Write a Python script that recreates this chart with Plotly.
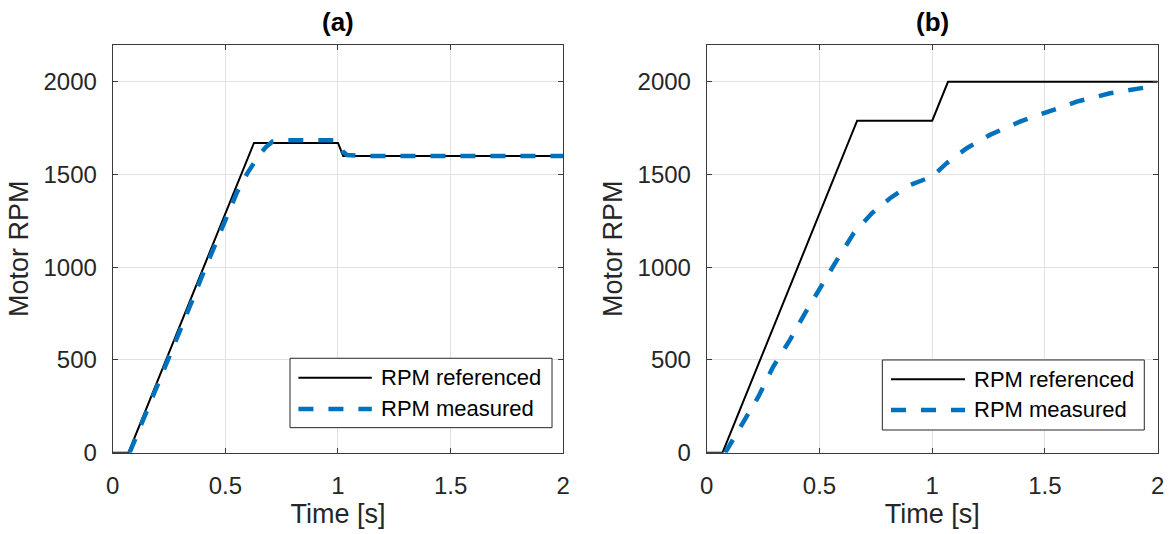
import plotly.graph_objects as go

# ---- data -------------------------------------------------------------
# (a) reference ramp with a step down after t = 1 s
t_ref_a = [0.0, 0.07, 0.627, 1.0, 1.023, 2.0]
rpm_ref_a = [0, 0, 1670, 1670, 1600, 1600]

t_meas_a = [0.075, 0.2, 0.3, 0.4, 0.5, 0.55, 0.6, 0.65, 0.68, 0.71, 0.75,
            0.99, 1.005, 1.02, 1.04, 1.07, 1.1, 2.0]
rpm_meas_a = [0, 362, 662, 962, 1258, 1400, 1512, 1605, 1648, 1678, 1685,
              1685, 1668, 1625, 1605, 1601, 1600, 1600]

# (b) reference ramp with a step up after t = 1 s
t_ref_b = [0.0, 0.07, 0.667, 1.0, 1.07, 2.0]
rpm_ref_b = [0, 0, 1790, 1790, 2000, 2000]

t_meas_b = [0.082, 0.162, 0.229, 0.295, 0.369, 0.436, 0.502, 0.569, 0.650,
            0.732, 0.813, 0.902, 1.0, 1.064, 1.153, 1.256, 1.389, 1.508,
            1.641, 1.788, 2.0]
rpm_meas_b = [0, 159, 302, 464, 608, 752, 890, 1022, 1180, 1291, 1372, 1444,
              1489, 1561, 1642, 1714, 1785, 1839, 1893, 1938, 1980]

x_tick_vals = [0, 0.5, 1, 1.5, 2]
x_tick_text = ["0", "0.5", "1", "1.5", "2"]
y_tick_vals = [0, 500, 1000, 1500, 2000]
y_tick_text = ["0", "500", "1000", "1500", "2000"]

panel_titles = ["(a)", "(b)"]
series_names = ["RPM referenced", "RPM measured"]

# ---- styling ------------------------------------------------------------
FONT = "Liberation Sans, Arial, Helvetica, sans-serif"
INK = "#262626"
BLUE = "#0072BD"
DASH = "15px,15px"

fig = go.Figure()

panels = [
    ("x", "y", t_ref_a, rpm_ref_a, t_meas_a, rpm_meas_a),
    ("x2", "y2", t_ref_b, rpm_ref_b, t_meas_b, rpm_meas_b),
]
for xa, ya, tr, rr, tm, rm in panels:
    fig.add_trace(go.Scatter(x=tr, y=rr, mode="lines", name=series_names[0],
                             line=dict(color="black", width=2),
                             xaxis=xa, yaxis=ya, showlegend=False))
    fig.add_trace(go.Scatter(x=tm, y=rm, mode="lines", name=series_names[1],
                             line=dict(color=BLUE, width=4.5, dash=DASH),
                             xaxis=xa, yaxis=ya, showlegend=False))

axis_common = dict(
    showgrid=True, gridcolor="#e2e2e2", gridwidth=1,
    showline=True, linecolor="#3a3a3a", linewidth=1, mirror="allticks",
    ticks="inside", ticklen=5, tickcolor="#3a3a3a", tickwidth=1,
    zeroline=False, automargin=False,
    tickfont=dict(family=FONT, size=24, color=INK),
)

x_domains = [[0.0960, 0.4798], [0.6020, 0.9861]]
y_domain = [0.1523, 0.9163]

layout = dict(
    width=1174, height=534,
    margin=dict(l=0, r=0, t=0, b=0),
    paper_bgcolor="white", plot_bgcolor="white",
    font=dict(family=FONT, color=INK),
    showlegend=False,
)
for i, (xa, ya) in enumerate([("xaxis", "yaxis"), ("xaxis2", "yaxis2")]):
    xname = "x" if i == 0 else "x2"
    yname = "y" if i == 0 else "y2"
    layout[xa] = dict(axis_common, domain=x_domains[i], range=[0, 2],
                      tickvals=x_tick_vals, ticktext=x_tick_text,
                      anchor=yname, ticklabelstandoff=12,
                      title=dict(text="Time [s]", standoff=5,
                                 font=dict(family=FONT, size=27, color=INK)))
    layout[ya] = dict(axis_common, domain=y_domain, range=[0, 2200],
                      tickvals=y_tick_vals, ticktext=y_tick_text,
                      anchor=xname, ticklabelstandoff=10,
                      title=dict(text="Motor RPM", standoff=7,
                                 font=dict(family=FONT, size=27, color=INK)))
fig.update_layout(**layout)

# ---- panel titles ---------------------------------------------------------
for i, name in enumerate(panel_titles):
    xref = "x domain" if i == 0 else "x2 domain"
    fig.add_annotation(text=name, xref=xref, yref="paper", x=0.5, y=0.9588,
                       xanchor="center", yanchor="middle", showarrow=False,
                       font=dict(family=FONT, size=26, color="black", weight=700))

# ---- legend boxes (drawn in axis-domain coordinates) ------------------------
legend_boxes = [
    dict(x0=0.3935, x1=0.975, y0=0.0613, y1=0.2314,
         lx0=0.4122, lx1=0.5751, ry=0.1838, my=0.1071, tx=0.5917),
    dict(x0=0.3894, x1=0.9703, y0=0.0556, y1=0.2272,
         lx0=0.4086, lx1=0.5727, ry=0.1799, my=0.1047, tx=0.5876),
]
for i, lb in enumerate(legend_boxes):
    xref = "x domain" if i == 0 else "x2 domain"
    yref = "y domain" if i == 0 else "y2 domain"
    fig.add_shape(type="rect", xref=xref, yref=yref,
                  x0=lb["x0"], x1=lb["x1"], y0=lb["y0"], y1=lb["y1"],
                  line=dict(color=INK, width=1), fillcolor="white", layer="above")
    fig.add_shape(type="line", xref=xref, yref=yref,
                  x0=lb["lx0"], x1=lb["lx1"], y0=lb["ry"], y1=lb["ry"],
                  line=dict(color="black", width=2), layer="above")
    fig.add_shape(type="line", xref=xref, yref=yref,
                  x0=lb["lx0"], x1=lb["lx1"], y0=lb["my"], y1=lb["my"],
                  line=dict(color=BLUE, width=4.5, dash=DASH), layer="above")
    for label, yy in zip(series_names, [lb["ry"], lb["my"]]):
        fig.add_annotation(text=label, xref=xref, yref=yref, x=lb["tx"], y=yy,
                           xanchor="left", yanchor="middle", showarrow=False,
                           font=dict(family=FONT, size=22, color="black"))

fig.write_html("out.html")
